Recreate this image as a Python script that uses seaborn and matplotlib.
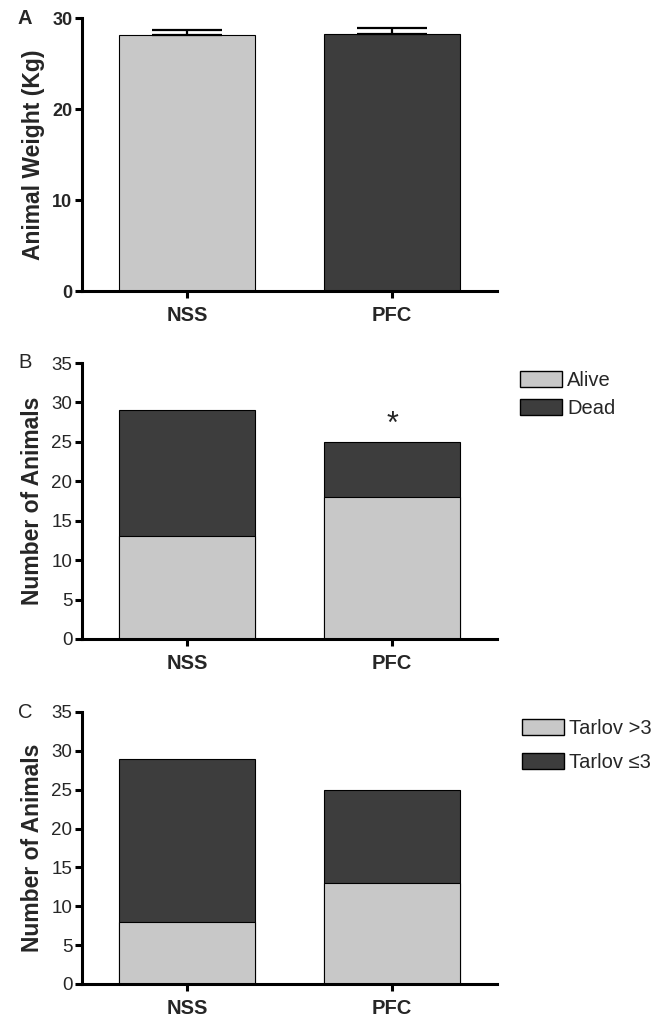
import matplotlib
matplotlib.use("Agg")
import matplotlib.pyplot as plt
from matplotlib.patches import Patch
import pandas as pd
import seaborn as sns

# data
groups = ["NSS", "PFC"]
weight_mean = [28.1, 28.2]
weight_sem = [0.6, 0.65]

alive = [13, 18]
dead = [16, 7]

tarlov_gt3 = [8, 13]
tarlov_le3 = [21, 12]

light = "#c8c8c8"
dark = "#3d3d3d"

sns.set_theme(style="ticks")
plt.rcParams["font.family"] = ["Liberation Sans", "DejaVu Sans"]

fig = plt.figure(figsize=(6.7, 10.18), dpi=100)
axA = fig.add_axes([0.1224, 0.7141, 0.6194, 0.2682])
axB = fig.add_axes([0.1224, 0.3723, 0.6194, 0.2711])
axC = fig.add_axes([0.1224, 0.0334, 0.6194, 0.2672])

XLIM = (-0.512, 1.512)
BAR_W = 0.66


def style_axis(ax, ymax, step, ylabel, bold_ticks):
    ax.set_ylim(0, ymax)
    ax.set_yticks(range(0, ymax + 1, step))
    ax.set_xlim(*XLIM)
    ax.set_xlabel("")
    ax.set_ylabel(ylabel, fontsize=16.5, fontweight="bold", labelpad=5)
    for s in ["top", "right"]:
        ax.spines[s].set_visible(False)
    for s in ["left", "bottom"]:
        ax.spines[s].set_linewidth(2.2)
        ax.spines[s].set_color("black")
    ax.tick_params(axis="both", width=2.2, length=5, color="black")
    ax.tick_params(axis="y", labelsize=13 if bold_ticks else 13.5, pad=2)
    ax.tick_params(axis="x", labelsize=14.5, pad=6)
    for lab in ax.get_yticklabels():
        lab.set_fontweight("bold" if bold_ticks else "normal")
    for lab in ax.get_xticklabels():
        lab.set_fontweight("bold")


# Panel A - body weight
dfA = pd.DataFrame({"group": groups, "weight": weight_mean})
sns.barplot(data=dfA, x="group", y="weight", hue="group",
            palette=[light, dark], width=BAR_W, edgecolor="black",
            linewidth=0.8, legend=False, ax=axA)
axA.errorbar(range(len(groups)), weight_mean, yerr=[[0, 0], weight_sem],
             fmt="none", ecolor="black", elinewidth=1.6, capsize=25, capthick=1.6)
style_axis(axA, 30, 10, "Animal Weight (Kg)", True)
fig.text(0.037, 1 - 18 / 1018, "A", fontsize=14.5, fontweight="bold",
         ha="center", va="center")

# Panel B - survival
dfB = pd.DataFrame({"group": groups, "alive": alive,
                    "total": [a + d for a, d in zip(alive, dead)]})
sns.barplot(data=dfB, x="group", y="total", color=dark, width=BAR_W,
            edgecolor="black", linewidth=0.8, ax=axB)
sns.barplot(data=dfB, x="group", y="alive", color=light, width=BAR_W,
            edgecolor="black", linewidth=0.8, ax=axB)
style_axis(axB, 35, 5, "Number of Animals", False)
axB.text(1, dfB["total"][1] + 0.3, "*", ha="center", va="bottom",
         fontsize=22)
fig.legend(handles=[Patch(facecolor=light, edgecolor="black", label="Alive"),
                    Patch(facecolor=dark, edgecolor="black", label="Dead")],
           loc="upper left", bbox_to_anchor=(520 / 670, 1 - 371 / 1018),
           frameon=False, fontsize=14.5, handlelength=2.1, handleheight=0.85,
           handletextpad=0.25, labelspacing=0.45, borderaxespad=0, borderpad=0)
fig.text(0.037, 1 - 363 / 1018, "B", fontsize=14.5, ha="center", va="center")

# Panel C - neurological outcome
dfC = pd.DataFrame({"group": groups, "good": tarlov_gt3,
                    "total": [a + b for a, b in zip(tarlov_gt3, tarlov_le3)]})
sns.barplot(data=dfC, x="group", y="total", color=dark, width=BAR_W,
            edgecolor="black", linewidth=0.8, ax=axC)
sns.barplot(data=dfC, x="group", y="good", color=light, width=BAR_W,
            edgecolor="black", linewidth=0.8, ax=axC)
style_axis(axC, 35, 5, "Number of Animals", False)
fig.legend(handles=[Patch(facecolor=light, edgecolor="black", label="Tarlov >3"),
                    Patch(facecolor=dark, edgecolor="black", label="Tarlov \u22643")],
           loc="upper left", bbox_to_anchor=(522 / 670, 1 - 719 / 1018),
           frameon=False, fontsize=14.5, handlelength=2.1, handleheight=0.85,
           handletextpad=0.25, labelspacing=0.75, borderaxespad=0, borderpad=0)
fig.text(0.037, 1 - 712 / 1018, "C", fontsize=14.5, ha="center", va="center")

fig.savefig("out.png", dpi=100, facecolor="white")
